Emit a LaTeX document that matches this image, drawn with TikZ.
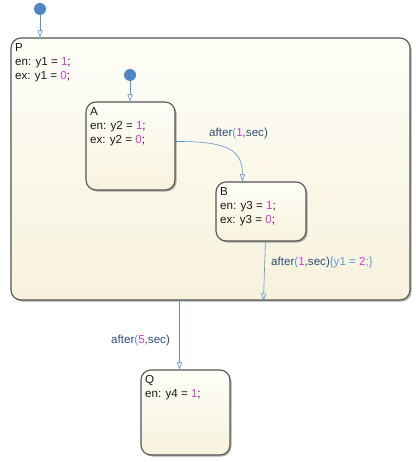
\documentclass[tikz,border=0pt]{standalone}
\usepackage{fontspec}
\setmainfont{Liberation Sans}
\usetikzlibrary{arrows.meta,shadows,calc}
\definecolor{dotblue}{HTML}{4F86C6}
\definecolor{trblue}{HTML}{5B93CF}
\definecolor{lblue}{HTML}{5B9BD5}
\definecolor{dblue}{HTML}{2E4A7A}
\definecolor{numc}{HTML}{D63CD6}
\definecolor{brd}{HTML}{555555}
\definecolor{stop}{HTML}{FEFEF8}
\definecolor{sbot}{HTML}{F7F2DC}
\newcommand{\nm}[1]{\textcolor{numc}{#1}}
\newcommand{\lb}[1]{\textcolor{lblue}{#1}}
\tikzset{
  statebox/.style={draw=brd, line width=1.1pt, rounded corners=10pt, top color=stop, bottom color=sbot,
    drop shadow={shadow xshift=1.5pt, shadow yshift=-1.5pt, opacity=0.45, fill=black!70}, inner sep=0pt},
  stext/.style={anchor=north west, align=left, inner sep=0pt, font=\fontsize{11.6}{13.8}\selectfont, text=black!90},
  dotnode/.style={circle, fill=dotblue, inner sep=0pt, minimum size=12pt},
  trans/.style={draw=trblue, line width=0.6pt, -{Triangle[open, length=7pt, width=5pt]}},
  tlabel/.style={anchor=west, inner sep=0pt, font=\fontsize{11.6}{13}\selectfont, text=dblue}
}
\begin{document}
\begin{tikzpicture}[x=1pt,y=-1pt]
\useasboundingbox (0,0) rectangle (415,462);
% states
\node[statebox, minimum width=399pt, minimum height=262pt] (P) at (210.5,169) {};
\node[statebox, minimum width=89pt, minimum height=88pt] (A) at (130.5,146) {};
\node[statebox, minimum width=90pt, minimum height=59pt] (B) at (261,211.5) {};
\node[statebox, minimum width=89pt, minimum height=85pt] (Q) at (185.5,412.5) {};
% state texts
\node[stext] (Pt) at ($(P.north west)+(4.5,6)$) {P\\en: y1 = \nm{1};\\ex: y1 = \nm{0};};
\node[stext] (At) at ($(A.north west)+(4.5,6)$) {A\\en: y2 = \nm{1};\\ex: y2 = \nm{0};};
\node[stext] (Bt) at ($(B.north west)+(4.5,6)$) {B\\en: y3 = \nm{1};\\ex: y3 = \nm{0};};
\node[stext] (Qt) at ($(Q.north west)+(4.5,6)$) {Q\\en: y4 = \nm{1};};
% default transitions
\node[dotnode] (d1) at (40,9) {};
\node[dotnode] (d2) at (130,75) {};
\draw[trans] (d1) -- (d1 |- P.north);
\draw[trans] (d2) -- (d2 |- A.north);
% A -> B
\coordinate (a1) at ($(A.north east)+(0,40)$);
\coordinate (b1) at ($(B.north west)+(27,0)$);
\draw[trans] (a1) .. controls ($(a1)+(52,0)$) and ($(b1)+(0,-32)$) .. (b1);
\node[tlabel] (l1) at (209,133) {after\lb{(}\nm{1},sec)};
% B -> P boundary
\coordinate (b2) at ($(B.south west)+(50,0)$);
\coordinate (p2) at ($(P.south west)+(253,0)$);
\draw[trans] (b2) -- (p2);
\node[tlabel] (l2) at (271,262) {after\lb{(}\nm{1},sec)\lb{\{y1 = }\nm{2}\lb{;\}}};
% P -> Q
\coordinate (p3) at ($(P.south west)+(169,0)$);
\draw[trans] (p3) -- (p3 |- Q.north);
\node[tlabel] (l3) at (111,340) {after\lb{(}\nm{5},sec)};
\end{tikzpicture}
\end{document}
